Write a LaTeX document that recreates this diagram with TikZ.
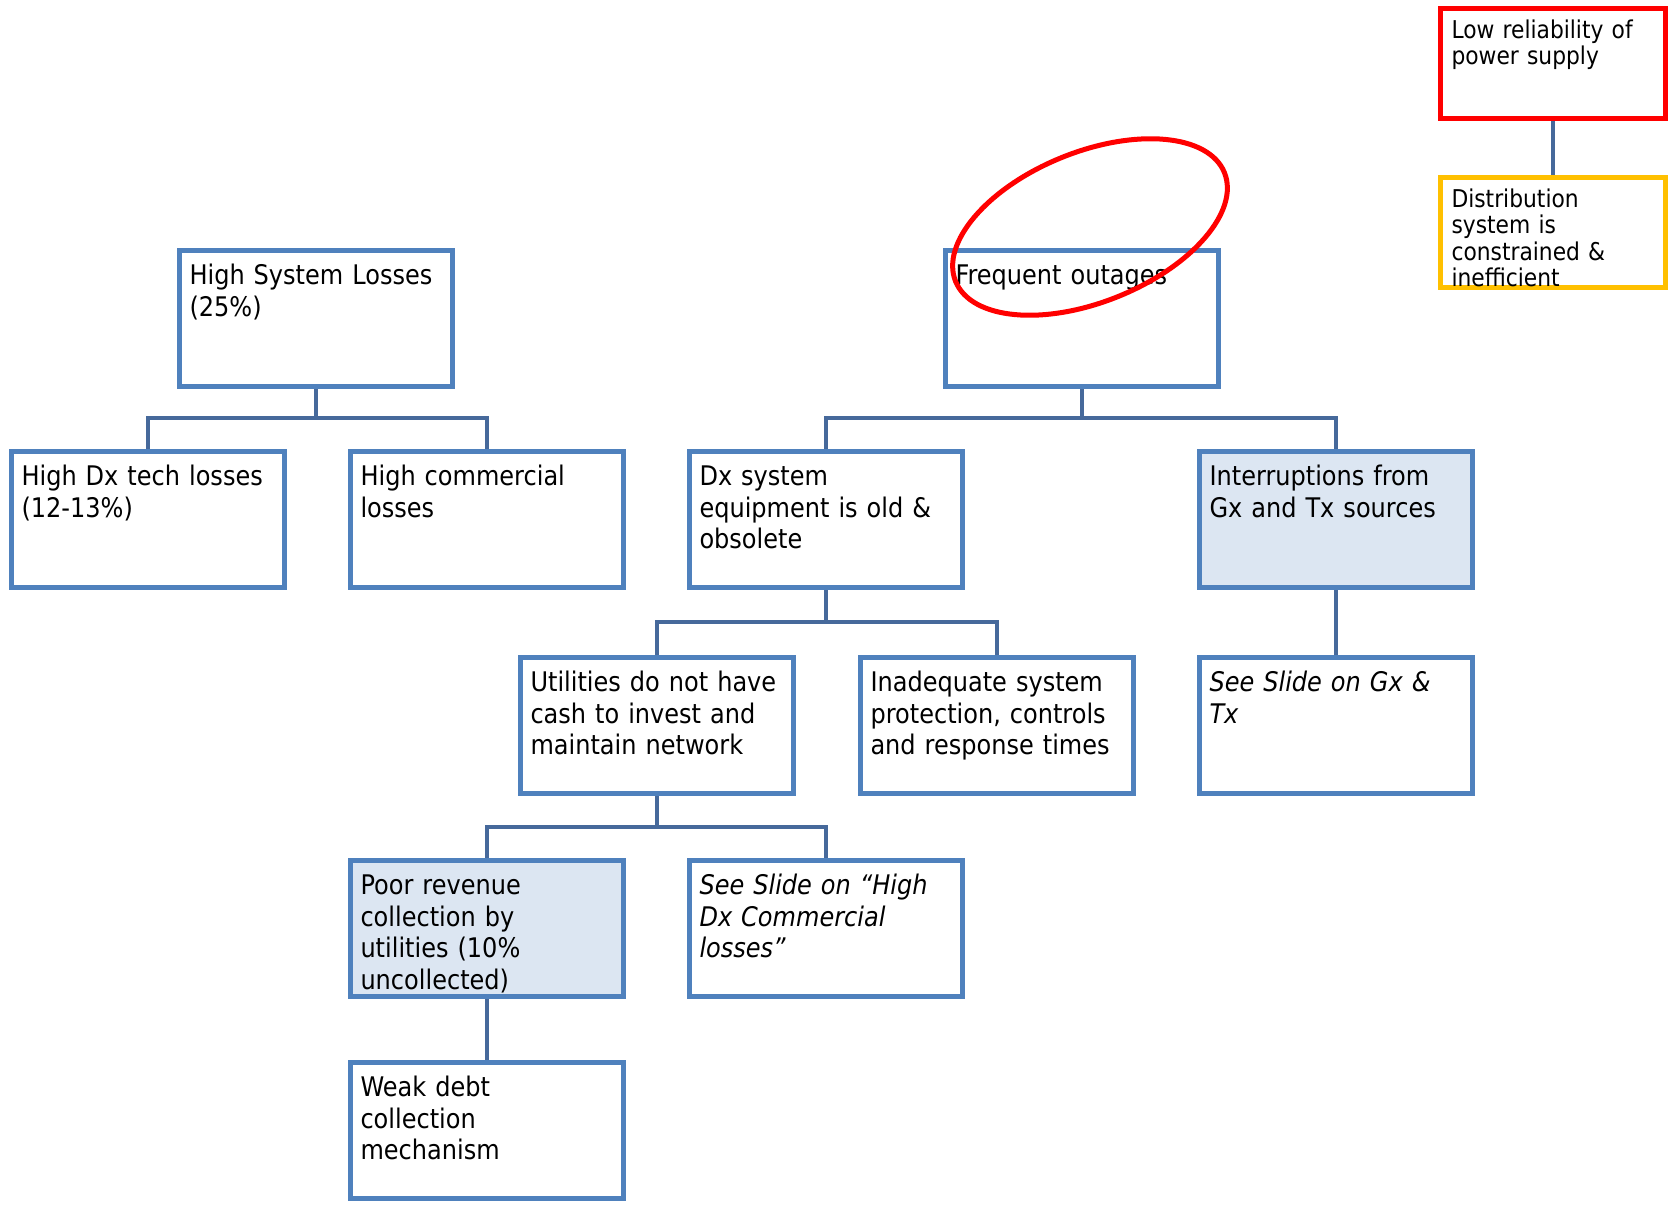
\documentclass[tikz,border=0pt]{standalone}
\usepackage{fontspec}
\setmainfont[FakeStretch=0.89]{DejaVu Sans}
\usetikzlibrary{shapes, positioning, calc}
\definecolor{boxblue}{HTML}{4F81BD}
\definecolor{linkblue}{HTML}{46699B}
\definecolor{fillblue}{HTML}{DCE6F2}
\definecolor{warnred}{HTML}{FF0000}
\definecolor{warnorange}{HTML}{FFC000}

\begin{document}
\begin{tikzpicture}[x=1pt, y=-1pt,
    cell/.style={draw=boxblue, line width=5pt, anchor=north west, align=left,
                 text width=253pt, inner xsep=10pt, inner ysep=14pt,
                 text height=20pt, text depth=88pt,
                 font=\fontsize{27}{31.7}\selectfont},
    hicell/.style={cell, fill=fillblue},
    topcell/.style={draw=#1, line width=5pt, anchor=north west, align=left,
                 text width=203pt, inner xsep=11pt, inner ysep=11pt,
                 text height=19pt, text depth=69pt,
                 font=\fontsize{24.5}{26.3}\selectfont},
    link/.style={draw=linkblue, line width=4.5pt}
  ]
  \useasboundingbox (2,2) rectangle (1674,1208);

  \node[topcell=warnred] (low) at (1440,8) {Low reliability of\\power supply};
  \node[topcell=warnorange] (dist) at (1440,177) {Distribution\\system is\\constrained \&\\inefficient};

  \node[cell] (hsl) at (179,250) {High System Losses\\(25\%)};
  \node[cell] (fout) at (945,250) {Frequent outages};

  \node[cell] (hdx) at (11,451) {High Dx tech losses\\(12-13\%)};
  \node[cell] (hcom) at (350,451) {High commercial\\losses};
  \node[cell] (dxeq) at (689,451) {Dx system\\equipment is old \&\\obsolete};
  \node[hicell] (intr) at (1199,451) {Interruptions from\\Gx and Tx sources};

  \node[cell] (util) at (520,657) {Utilities do not have\\cash to invest and\\maintain network};
  \node[cell] (inad) at (860,657) {Inadequate system\\protection, controls\\and response times};
  \node[cell] (seegt) at (1199,657) {\itshape See Slide on Gx \&\\Tx};

  \node[hicell] (poor) at (350,860) {Poor revenue\\collection by\\utilities (10\%\\uncollected)};
  \node[cell] (seedx) at (689,860) {\itshape See Slide on “High\\Dx Commercial\\losses”};

  \node[cell] (weak) at (350,1062) {Weak debt\\collection\\mechanism};

  % tree links
  \draw[link] (low.south) -- (dist.north);
  \draw[link] (hsl.south) -- ++(0,29) -| (hdx.north);
  \draw[link] (hsl.south) -- ++(0,29) -| (hcom.north);
  \draw[link] (fout.south) -- ++(0,29) -| (dxeq.north);
  \draw[link] (fout.south) -- ++(0,29) -| (intr.north);
  \draw[link] (dxeq.south) -- ++(0,32) -| (util.north);
  \draw[link] (dxeq.south) -- ++(0,32) -| (inad.north);
  \draw[link] (intr.south) -- (seegt.north);
  \draw[link] (util.south) -- ++(0,31) -| (poor.north);
  \draw[link] (util.south) -- ++(0,31) -| (seedx.north);
  \draw[link] (poor.south) -- (weak.north);

  % highlight ring
  \draw[warnred, line width=5pt, rotate around={22:(1092,229)}]
    (1092,229) ellipse [x radius=145, y radius=75];
\end{tikzpicture}
\end{document}
